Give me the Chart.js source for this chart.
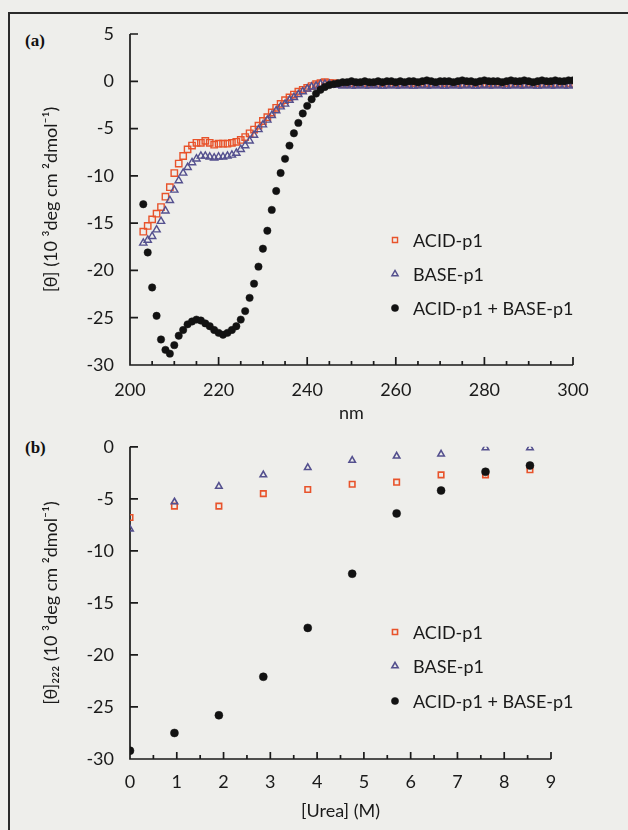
<!DOCTYPE html>
<html lang="en">
<head>
<meta charset="UTF-8">
<title>ACID-p1 / BASE-p1 circular dichroism</title>
<script src="https://cdn.jsdelivr.net/npm/chart.js"></script>
<style>
  html, body { margin: 0; padding: 0; }
  body { width: 628px; height: 830px; background: #eeeeeb; position: relative; overflow: hidden; }
  .frame { position: absolute; left: 8px; top: 12px; width: 700px; height: 900px;
           border-top: 2px solid #2a2a2a; border-left: 2px solid #2a2a2a; }
  canvas { position: absolute; left: 0; }
  #cdChart { top: 0; }
  #ureaChart { top: 420px; }
  .panel { position: absolute; left: 25px; font: bold 17px 'Liberation Serif', serif; color: #111; }
</style>
</head>
<body>
<div class="frame"></div>
<div class="panel" style="top:31px">(a)</div>
<div class="panel" style="top:438px">(b)</div>
<canvas id="cdChart" width="628" height="430"></canvas>
<canvas id="ureaChart" width="628" height="410"></canvas>

<script>
  // (a) CD spectra, 1 nm steps
  const wavelengthNm = [
    203,204,205,206,207,208,209,210,211,212,
    213,214,215,216,217,218,219,220,221,222,
    223,224,225,226,227,228,229,230,231,232,
    233,234,235,236,237,238,239,240,241,242,
    243,244,245,246,247,248,249,250,251,252,
    253,254,255,256,257,258,259,260,261,262,
    263,264,265,266,267,268,269,270,271,272,
    273,274,275,276,277,278,279,280,281,282,
    283,284,285,286,287,288,289,290,291,292,
    293,294,295,296,297,298,299,300
  ];
  const acidSpectrum = [
    -15.9,-15.3,-14.6,-14.0,-13.3,-12.2,-11.2,-9.7,-8.7,-7.9,
    -7.2,-6.8,-6.5,-6.5,-6.3,-6.5,-6.7,-6.6,-6.6,-6.6,
    -6.5,-6.4,-6.2,-5.9,-5.5,-5.1,-4.7,-4.2,-3.8,-3.3,
    -2.8,-2.4,-2.0,-1.7,-1.4,-1.1,-0.9,-0.7,-0.5,-0.3,
    -0.2,-0.1,-0.2,-0.2,-0.3,-0.3,-0.3,-0.2,-0.3,-0.3,
    -0.2,-0.3,-0.3,-0.3,-0.2,-0.3,-0.3,-0.2,-0.3,-0.3,
    -0.3,-0.2,-0.3,-0.3,-0.2,-0.3,-0.3,-0.3,-0.2,-0.3,
    -0.3,-0.2,-0.3,-0.3,-0.3,-0.2,-0.3,-0.3,-0.2,-0.3,
    -0.3,-0.3,-0.2,-0.3,-0.3,-0.2,-0.3,-0.3,-0.3,-0.2,
    -0.3,-0.3,-0.2,-0.3,-0.3,-0.3,-0.2,-0.3
  ];
  const baseSpectrum = [
    -17.1,-16.8,-16.4,-15.7,-14.8,-13.7,-12.6,-11.5,-10.5,-9.7,
    -9.1,-8.6,-8.2,-7.9,-7.9,-8.0,-8.1,-8.0,-8.0,-7.9,
    -7.8,-7.6,-7.2,-6.8,-6.3,-5.7,-5.1,-4.6,-4.1,-3.6,
    -3.1,-2.7,-2.4,-2.0,-1.7,-1.4,-1.1,-0.8,-0.6,-0.5,
    -0.3,-0.3,-0.3,-0.4,-0.4,-0.5,-0.4,-0.5,-0.5,-0.4,
    -0.5,-0.5,-0.4,-0.5,-0.5,-0.5,-0.4,-0.5,-0.5,-0.4,
    -0.5,-0.5,-0.5,-0.4,-0.5,-0.5,-0.4,-0.5,-0.5,-0.5,
    -0.4,-0.5,-0.5,-0.4,-0.5,-0.5,-0.5,-0.4,-0.5,-0.5,
    -0.4,-0.5,-0.5,-0.5,-0.4,-0.5,-0.5,-0.4,-0.5,-0.5,
    -0.5,-0.4,-0.5,-0.5,-0.4,-0.5,-0.5,-0.4
  ];
  const mixSpectrum = [
    -13.0,-18.1,-21.8,-24.8,-27.3,-28.4,-28.8,-27.9,-26.9,-26.3,
    -25.7,-25.4,-25.2,-25.3,-25.6,-25.9,-26.3,-26.6,-26.8,-26.6,
    -26.3,-25.9,-25.2,-24.3,-22.9,-21.4,-19.6,-17.7,-15.8,-13.6,
    -11.6,-9.7,-8.2,-6.8,-5.5,-4.4,-3.4,-2.6,-1.9,-1.3,
    -0.9,-0.6,-0.4,-0.3,-0.2,-0.1,-0.1,0.0,-0.1,-0.1,
    0.0,-0.1,-0.1,0.0,-0.1,0.0,0.0,-0.1,0.0,-0.1,
    0.0,0.0,-0.1,0.0,0.1,0.0,-0.1,0.0,0.0,0.0,
    -0.1,0.0,0.1,0.0,0.0,-0.1,0.0,0.1,0.0,0.0,
    0.0,-0.1,0.0,0.1,0.0,0.0,0.1,0.0,-0.1,0.0,
    0.1,0.0,0.0,0.1,0.0,0.0,0.1,0.1
  ];

  // (b) ellipticity at 222 nm vs urea
  const ureaM = [0, 0.95, 1.9, 2.85, 3.8, 4.75, 5.7, 6.65, 7.6, 8.55];
  const acid222 = [-6.8, -5.7, -5.7, -4.5, -4.1, -3.6, -3.4, -2.7, -2.7, -2.2];
  const base222 = [-7.9, -5.3, -3.8, -2.7, -2.0, -1.3, -0.9, -0.7, -0.1, -0.1];
  const mix222 = [-29.2, -27.5, -25.8, -22.1, -17.4, -12.2, -6.4, -4.2, -2.4, -1.8];

  const seriesNames = ['ACID-p1', 'BASE-p1', 'ACID-p1 + BASE-p1'];
  const nmTicks = { min: 200, max: 300, step: 20, minor: 5 };
  const cdTicks = { min: -30, max: 5, step: 5 };
  const ureaTicks = { min: 0, max: 9, step: 1, minor: 0.5 };
  const ureaYTicks = { min: -30, max: 0, step: 5 };

  const RED = '#e8532b';
  const BLUE = '#54508e';
  const BLACK = '#121212';
  const FONT = "Lato, 'DejaVu Sans', sans-serif";

  Chart.defaults.font.family = FONT;
  Chart.defaults.color = '#1a1a1a';

  function points(xs, ys) {
    return xs.map((x, i) => ({ x: x, y: ys[i] }));
  }

  // L-shaped axes with ticks pointing inward, minor ticks on x
  const inwardAxes = {
    id: 'inwardAxes',
    beforeDatasetsDraw(chart, args, opts) {
      const { ctx, chartArea: a, scales: { x, y } } = chart;
      ctx.save();
      ctx.strokeStyle = '#1a1a1a';
      ctx.lineWidth = 1.7;
      ctx.beginPath();
      ctx.moveTo(a.left, a.top);
      ctx.lineTo(a.left, a.bottom);
      ctx.lineTo(a.right, a.bottom);
      y.ticks.forEach(t => {
        const py = y.getPixelForValue(t.value);
        ctx.moveTo(a.left, py);
        ctx.lineTo(a.left + opts.yTick, py);
      });
      const step = x.options.ticks.stepSize;
      const n = Math.round((x.max - x.min) / opts.xMinor);
      for (let i = 0; i <= n; i++) {
        const v = x.min + i * opts.xMinor;
        const r = v / step;
        const major = Math.abs(r - Math.round(r)) < 1e-6;
        const px = x.getPixelForValue(v);
        ctx.moveTo(px, a.bottom);
        ctx.lineTo(px, a.bottom - (major ? opts.xMajorLen : opts.xMinorLen));
      }
      ctx.stroke();
      ctx.restore();
    }
  };

  // plain legend: marker + label per dataset, in legend order
  const markerLegend = {
    id: 'markerLegend',
    afterDraw(chart, args, opts) {
      const ctx = chart.ctx;
      ctx.save();
      ctx.font = opts.font;
      ctx.textBaseline = 'middle';
      ctx.textAlign = 'left';
      chart.data.datasets.forEach((ds, i) => {
        const y = opts.rows[i];
        ctx.fillStyle = ds.backgroundColor;
        ctx.strokeStyle = ds.borderColor;
        ctx.lineWidth = ds.borderWidth;
        Chart.helpers.drawPoint(ctx, {
          pointStyle: ds.pointStyle,
          radius: opts.radius,
          borderWidth: ds.borderWidth,
          rotation: 0
        }, opts.markerX, y);
        ctx.fillStyle = '#1a1a1a';
        ctx.fillText(ds.label, opts.textX, y + 1);
      });
      ctx.restore();
    }
  };

  function datasets(xs, a, b, c, sz) {
    return [
      { label: seriesNames[0], data: points(xs, a), pointStyle: 'rect', pointRadius: sz.rect,
        borderColor: RED, backgroundColor: 'rgba(0,0,0,0)', borderWidth: sz.bw, order: 2 },
      { label: seriesNames[1], data: points(xs, b), pointStyle: 'triangle', pointRadius: sz.tri,
        borderColor: BLUE, backgroundColor: 'rgba(0,0,0,0)', borderWidth: sz.bw, order: 1 },
      { label: seriesNames[2], data: points(xs, c), pointStyle: 'circle', pointRadius: sz.dot,
        borderColor: BLACK, backgroundColor: BLACK, borderWidth: 0.5, order: 0 }
    ];
  }

  function axisX(t, title, height, labelPad, titlePad) {
    return {
      type: 'linear', min: t.min, max: t.max,
      ticks: { stepSize: t.step, padding: labelPad, font: { size: 18 }, maxRotation: 0, autoSkip: false },
      grid: { display: false, drawTicks: false },
      border: { display: false },
      title: { display: true, text: title, font: { size: 18 }, padding: { top: 0, bottom: titlePad } },
      afterFit: s => { s.height = height; }
    };
  }

  function axisY(t, title, width) {
    return {
      min: t.min, max: t.max,
      ticks: { stepSize: t.step, padding: 16, font: { size: 18 } },
      grid: { display: false, drawTicks: false },
      border: { display: false },
      title: { display: true, text: title, font: { size: 18 }, padding: { top: 40, bottom: 0 } },
      afterFit: s => { s.width = width; }
    };
  }

  new Chart(document.getElementById('cdChart'), {
    type: 'scatter',
    data: { datasets: datasets(wavelengthNm, acidSpectrum, baseSpectrum, mixSpectrum,
                               { rect: 4.5, tri: 4.2, dot: 3.7, bw: 1.4 }) },
    options: {
      responsive: false,
      animation: false,
      layout: { padding: { top: 34, right: 55, left: 0, bottom: 0 } },
      plugins: {
        legend: { display: false },
        tooltip: { enabled: false },
        inwardAxes: { yTick: 8, xMinor: nmTicks.minor, xMajorLen: 8, xMinorLen: 4 },
        markerLegend: { rows: [240, 274, 308], markerX: 395, textX: 413, radius: 3.6,
                        font: '18px ' + FONT }
      },
      scales: {
        x: axisX(nmTicks, 'nm', 65, 14, 6),
        y: axisY(cdTicks, '[θ] (10 ³deg cm ²dmol⁻¹)', 130)
      }
    },
    plugins: [inwardAxes, markerLegend]
  });

  new Chart(document.getElementById('ureaChart'), {
    type: 'scatter',
    data: { datasets: datasets(ureaM, acid222, base222, mix222,
                               { rect: 3.9, tri: 3.7, dot: 4, bw: 1.6 }) },
    options: {
      responsive: false,
      animation: false,
      layout: { padding: { top: 23, right: 77, left: 0, bottom: 0 } },
      plugins: {
        legend: { display: false },
        tooltip: { enabled: false },
        inwardAxes: { yTick: 8, xMinor: ureaTicks.minor, xMajorLen: 7, xMinorLen: 4 },
        markerLegend: { rows: [212, 246, 281], markerX: 395, textX: 413, radius: 3.6,
                        font: '18px ' + FONT }
      },
      scales: {
        x: axisX(ureaTicks, '[Urea] (M)', 71, 12, 8),
        y: axisY(ureaYTicks, '[θ]₂₂₂ (10 ³deg cm ²dmol⁻¹)', 130)
      }
    },
    plugins: [inwardAxes, markerLegend]
  });
</script>
</body>
</html>
